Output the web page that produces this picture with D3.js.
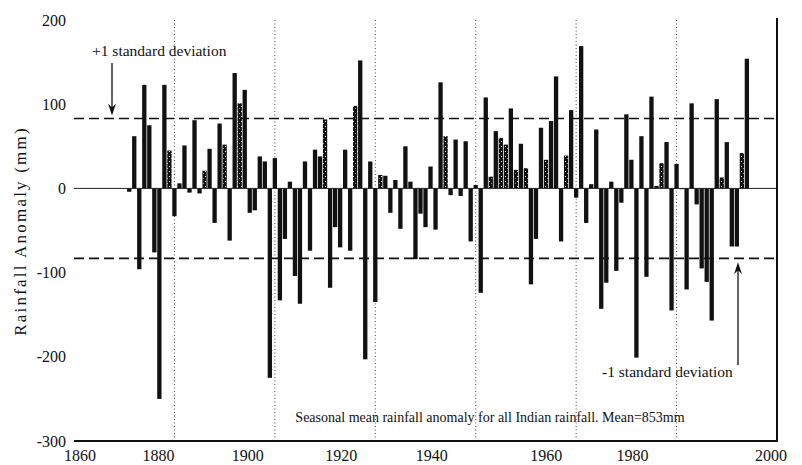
<!DOCTYPE html>
<html>
<head>
<meta charset="utf-8">
<script src="https://cdn.jsdelivr.net/npm/d3@7"></script>
<style>
  body { margin: 0; background: #fff; }
  text { font-family: "Liberation Serif", "DejaVu Serif", serif; fill: #111; }
</style>
</head>
<body>
<script>
// seasonal (monsoon) rainfall anomaly, mm, one value per year from 1871
const firstYear = 1871;
const anomaly = [
  -4, 62, -96, 123, 75, -76, -250, 123, 45, -33,        // 1871-1880
  6, 51, -5, 81, -6, 21, 47, -41, 77, 52,               // 1881-1890
  -62, 137, 101, 117, -29, -26, 38, 32, -225, 36,       // 1891-1900
  -133, -60, 8, -104, -137, 32, -74, 46, 38, 82,        // 1901-1910
  -118, -46, -70, 46, -74, 98, 152, -203, 32, -135,     // 1911-1920
  16, 15, -29, 10, -48, 50, 8, -84, -30, -46,           // 1921-1930
  26, -49, 126, 62, -8, 58, -9, 56, -63, 4,             // 1931-1940
  -124, 108, 14, 68, 60, 52, 95, 22, 53, 24,            // 1941-1950
  -114, -60, 72, 34, 80, 133, -63, 39, 93, -11,         // 1951-1960
  169, -41, 5, 70, -143, -112, 8, -98, -17, 88,         // 1961-1970
  34, -201, 62, -105, 109, 3, 30, 55, -145, 29,         // 1971-1980
  0, -120, 101, -19, -95, -111, -157, 106, 13, 55,      // 1981-1990
  -69, -69, 42, 154                                     // 1991-1994
];
// bars printed with a stippled (halftone) fill in the original
const stippledYears = [1879, 1886, 1890, 1893, 1910, 1916, 1921, 1934, 1943,
                       1945, 1946, 1948, 1950, 1954, 1958, 1977, 1989, 1993];

const stdDev = 83;
const xTicks = [1860, 1880, 1900, 1920, 1940, 1960, 1980, 2000];
const gridYears = [1880, 1900, 1920, 1940, 1960, 1980];
const yTicks = [200, 100, 0, -100, -200, -300];

const data = anomaly.map((v, i) => ({year: firstYear + i, value: v}));

const W = 802, H = 465;

let svg = d3.select("body").append("svg")
    .attr("width", W)
    .attr("height", H);

let x = d3.scaleLinear().domain([1860, 2000]).range([74, 777]);
let y = d3.scaleLinear().domain([-300, 200]).range([441, 20]);

// stipple pattern (mostly black, sparse white specks)
let pat = svg.append("defs").append("pattern")
    .attr("id", "stipple")
    .attr("width", 4).attr("height", 5)
    .attr("patternUnits", "userSpaceOnUse");
pat.append("rect").attr("width", 4).attr("height", 5).attr("fill", "#111");
pat.append("rect").attr("x", 1).attr("y", 1).attr("width", 1).attr("height", 1).attr("fill", "#eee");
pat.append("rect").attr("x", 3).attr("y", 3).attr("width", 1).attr("height", 1).attr("fill", "#999");

// dotted vertical grid lines
svg.selectAll(".grid")
    .data(gridYears)
    .enter().append("line")
    .attr("class", "grid")
    .attr("x1", d => x(d)).attr("x2", d => x(d))
    .attr("y1", y(200)).attr("y2", y(-300))
    .attr("stroke", "#444")
    .attr("stroke-width", 1)
    .attr("stroke-dasharray", "1,2.5");

// +/- 1 standard deviation lines
svg.selectAll(".sd")
    .data([stdDev, -stdDev])
    .enter().append("line")
    .attr("class", "sd")
    .attr("x1", x(1860)).attr("x2", x(2000))
    .attr("y1", d => y(d)).attr("y2", d => y(d))
    .attr("stroke", "#111")
    .attr("stroke-width", 1.7)
    .attr("stroke-dasharray", "10,5");

// bars
const bw = 4.3;
svg.selectAll(".bar")
    .data(data)
    .enter().append("rect")
    .attr("class", "bar")
    .attr("x", d => x(d.year) - bw / 2)
    .attr("width", bw)
    .attr("y", d => y(Math.max(0, d.value)))
    .attr("height", d => Math.max(0.8, Math.abs(y(d.value) - y(0))))
    .attr("fill", d => stippledYears.includes(d.year) ? "url(#stipple)" : "#111");

// zero line
svg.append("line")
    .attr("x1", x(1860)).attr("x2", x(2000))
    .attr("y1", y(0)).attr("y2", y(0))
    .attr("stroke", "#222")
    .attr("stroke-width", 1);

// bottom axis and right frame
svg.append("line")
    .attr("x1", x(1860)).attr("x2", x(2000) + 1)
    .attr("y1", y(-300)).attr("y2", y(-300))
    .attr("stroke", "#111").attr("stroke-width", 2);
svg.append("line")
    .attr("x1", x(2000)).attr("x2", x(2000))
    .attr("y1", y(200) - 2).attr("y2", y(-300))
    .attr("stroke", "#111").attr("stroke-width", 2);

// tick labels
svg.selectAll(".ylab")
    .data(yTicks)
    .enter().append("text")
    .attr("class", "ylab")
    .attr("x", 66)
    .attr("y", d => y(d))
    .attr("dy", "0.35em")
    .attr("text-anchor", "end")
    .style("font-size", "16px")
    .text(d => d);

// the printed year labels sit a little left of their grid lines in the original
const labelShift = {1860: 6, 1880: -16, 1900: -27, 1920: -34, 1940: -44, 1960: -30, 1980: -44, 2000: -6};
svg.selectAll(".xlab")
    .data(xTicks)
    .enter().append("text")
    .attr("class", "xlab")
    .attr("x", d => x(d) + labelShift[d])
    .attr("y", 455)
    .attr("dy", "0.35em")
    .attr("text-anchor", "middle")
    .style("font-size", "16px")
    .text(d => d);

// axis title
svg.append("text")
    .attr("transform", "translate(26, 231) rotate(-90)")
    .attr("text-anchor", "middle")
    .style("font-size", "17px")
    .style("letter-spacing", "2.2px")
    .text("Rainfall Anomaly (mm)");

// annotations
svg.append("text")
    .attr("x", 92).attr("y", 56)
    .style("font-size", "15.5px")
    .text("+1 standard deviation");
svg.append("text")
    .attr("x", 602).attr("y", 377)
    .style("font-size", "15.5px")
    .text("-1 standard deviation");
svg.append("text")
    .attr("x", 490).attr("y", 422)
    .attr("text-anchor", "middle")
    .style("font-size", "14px")
    .text("Seasonal mean rainfall anomaly for all Indian rainfall. Mean=853mm");

// arrows pointing to the sd lines
function arrow(x0, yFrom, yTo) {
  const dir = yTo > yFrom ? 1 : -1;
  svg.append("line")
      .attr("x1", x0).attr("x2", x0)
      .attr("y1", yFrom).attr("y2", yTo - dir * 6)
      .attr("stroke", "#111").attr("stroke-width", 1.3);
  svg.append("path")
      .attr("d", `M${x0},${yTo} L${x0 - 4},${yTo - dir * 12} L${x0},${yTo - dir * 8} L${x0 + 4},${yTo - dir * 12} Z`)
      .attr("fill", "#111");
}
arrow(112, 63, y(stdDev) - 3);
arrow(738, 365, y(-stdDev) + 4);
</script>
</body>
</html>
